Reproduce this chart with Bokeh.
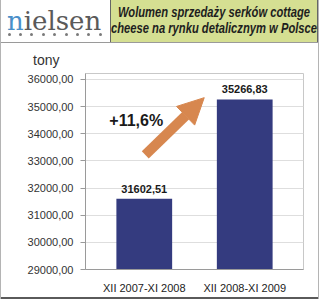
from bokeh.plotting import figure
from bokeh.layouts import row, column
from bokeh.models import (FactorRange, ColumnDataSource, LabelSet, Label, Div,
                          Arrow, NormalHead, FixedTicker, CustomJSTickFormatter)
from bokeh.core.properties import value
from bokeh.embed import file_html
from bokeh.resources import INLINE

# ---- data ----
periods = ["XII 2007-XI 2008", "XII 2008-XI 2009"]
volumes = [31602.51, 35266.83]
y_ticks = [29000, 30000, 31000, 32000, 33000, 34000, 35000, 36000]
unit_label = "tony"
change_label = "+11,6%"
title_lines = ["Wolumen sprzedaży serków cottage", "cheese na rynku detalicznym w Polsce"]

W = 317
HEAD_H = 70
MAIN_H = 227

# ---------------- header (HTML) ----------------
dots = "".join(
    '<div style="position:absolute;left:%.1fpx;top:32.5px;width:3px;height:3px;'
    'border-radius:50%%;background:#7a7a7a"></div>' % (9 + 11.4 * i - 1 - 1.5)
    for i in range(9))
title_html = "".join(
    '<div style="position:absolute;left:13px;width:400px;top:%.2fpx;height:14px;'
    'line-height:14px;text-align:center;white-space:nowrap;'
    "font:italic bold 14px 'Liberation Sans';color:#1e1e1e;"
    'transform:scaleX(0.8);transform-origin:50%% 50%%">%s</div>' % (4.15 + 16 * i, t)
    for i, t in enumerate(title_lines))
header_html = (
    '<div style="position:relative;width:%dpx;height:%dpx;overflow:hidden;background:#fff">' % (W, HEAD_H)
    + '<div style="position:absolute;left:109px;top:0;width:208px;height:42px;box-sizing:border-box;'
      'background:#d5df92;border-left:1px solid #666;border-right:1px solid #666"></div>'
    + title_html
    + '<div style="position:absolute;left:0;top:42px;width:%dpx;height:1px;background:#9a9a9a"></div>' % W
    + "<div style=\"position:absolute;left:6px;top:6px;height:26px;line-height:26px;white-space:nowrap;"
      "font:26px 'DejaVu Serif'\"><span style=\"color:#4a8fc9\">n</span>"
      "<span style=\"color:#5a5a5a\">ielsen</span></div>"
    + dots
    + "<div style=\"position:absolute;left:32px;top:52.15px;height:14px;line-height:14px;"
      "font:14px 'Liberation Sans';color:#333\">%s</div>" % unit_label
    + "</div>")
header = Div(text=header_html, width=W, height=HEAD_H, margin=0)

# ---------------- main chart ----------------
value_texts = [("%.2f" % v).replace(".", ",") for v in volumes]
src = ColumnDataSource(dict(x=periods, top=volumes, txt=value_texts))

p = figure(width=W, height=MAIN_H, output_backend="svg", toolbar_location=None, title=None,
           x_range=FactorRange(factors=periods, range_padding=0.085, range_padding_units="absolute"),
           y_range=(29000, 36220),
           min_border_left=84, min_border_right=15, min_border_top=3, min_border_bottom=28)
p.background_fill_color = "white"
p.border_fill_color = "white"
p.outline_line_color = "#c8c8c8"

p.vbar(x="x", top="top", bottom=29000, width=0.555, source=src,
       fill_color="#343b7f", line_color=None)

p.add_layout(LabelSet(x="x", y="top", text="txt", source=src, y_offset=6,
                      text_align="center", text_baseline="bottom",
                      text_font=value("Liberation Sans"), text_font_style="bold",
                      text_font_size="11px", text_color="#1a1a1a"))

p.yaxis.ticker = FixedTicker(ticks=y_ticks)
p.yaxis.formatter = CustomJSTickFormatter(code="return tick.toFixed(2).replace('.', ',');")
p.yaxis.major_label_text_font = "Liberation Sans"
p.yaxis.major_label_text_font_size = "11px"
p.yaxis.major_label_text_color = "#333333"
p.yaxis.major_label_standoff = 7
p.yaxis.axis_line_color = "#9a9a9a"
p.yaxis.major_tick_line_color = "#9a9a9a"
p.yaxis.major_tick_out = 5
p.yaxis.major_tick_in = 0
p.yaxis.minor_tick_line_color = None

p.xaxis.major_label_text_font = "Liberation Sans"
p.xaxis.major_label_text_font_size = "11px"
p.xaxis.major_label_text_color = "#222222"
p.xaxis.major_label_standoff = 6
p.xaxis.axis_line_color = "#9a9a9a"
p.xaxis.major_tick_line_color = None
p.xaxis.minor_tick_line_color = None

p.xgrid.grid_line_color = None
p.ygrid.grid_line_color = "#dedede"
p.ygrid.grid_line_width = 1

p.add_layout(Arrow(end=NormalHead(size=26, fill_color="#d7874f", line_color="#d7874f"),
                   x_start=0.51, y_start=33220, x_end=1.097, y_end=35330,
                   line_color="#d7874f", line_width=10))
p.add_layout(Label(x=0.42, y=34490, text=change_label, text_align="center",
                   text_baseline="middle", text_font="Liberation Sans",
                   text_font_style="bold", text_font_size="16px", text_color="#1a1a1a"))

# ---------------- outer frame strips ----------------
def strip(w, hgt, color):
    return Div(text="", width=w, height=hgt, margin=0,
               styles={"background-color": color})

inner = column(header, p, strip(W, 2, "#5a5a5a"), spacing=0)
layout = row(strip(1, HEAD_H + MAIN_H + 2, "#b4b4b4"), inner,
             strip(1, HEAD_H + MAIN_H + 2, "#b4b4b4"), spacing=0)

open("out.html", "w").write(file_html(layout, INLINE))
